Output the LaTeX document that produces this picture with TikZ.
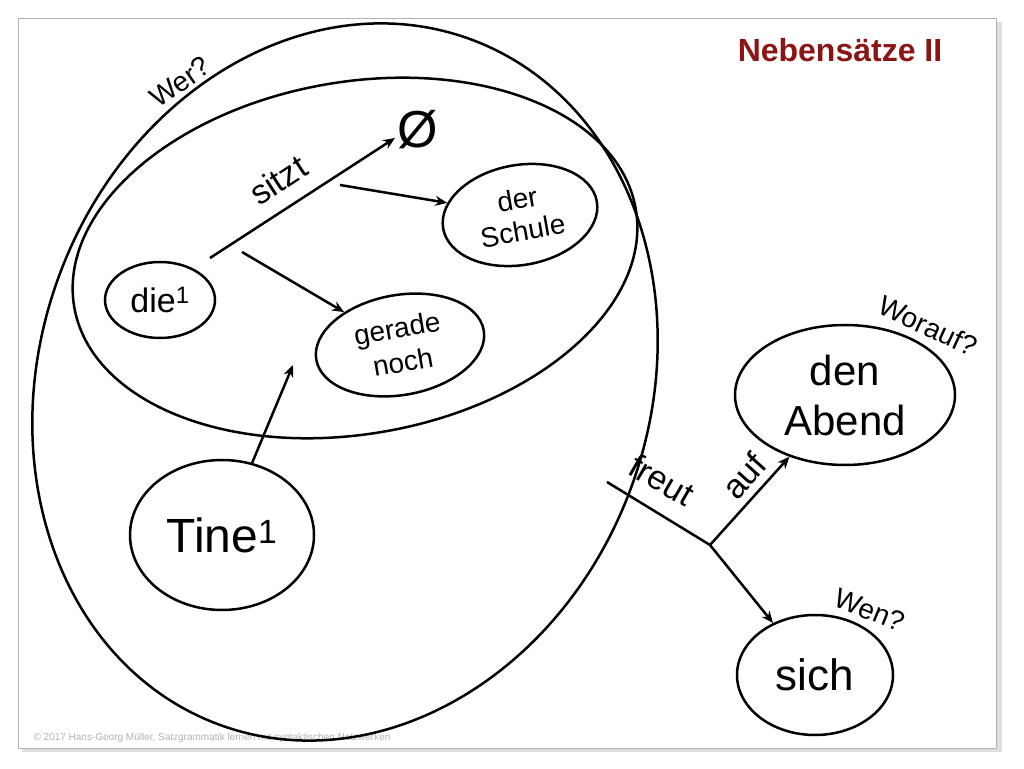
\documentclass[tikz,border=0pt]{standalone}
\usepackage{fontspec}
\setmainfont{Liberation Sans}
\usetikzlibrary{shapes.geometric,arrows.meta}
\definecolor{titlered}{RGB}{140,20,20}
\begin{document}
\begin{tikzpicture}[x=1pt,y=1pt,
  ell/.style={draw,ellipse,line width=2.5pt,inner sep=0pt,align=center},
  arr/.style={line width=2.5pt,-{Stealth[length=12pt,width=10pt]}},
  ln/.style={line width=2.5pt},
  lbl/.style={font=\fontsize{34}{34}\selectfont}]
\useasboundingbox (0,0) rectangle (1024,768);
\fill[white] (0,0) rectangle (1024,768);
\fill[gray!25] (22,16) rectangle (1002,746);
\draw[gray!60,fill=white] (18,20) rectangle (996,750);
\node[anchor=south west,gray!60,font=\fontsize{10}{10}\selectfont] (foot) at (30,22) {© 2017 Hans-Georg Müller, Satzgrammatik lernen mit syntaktischen Netzwerken};
\node[titlered,font=\fontsize{32}{32}\bfseries\selectfont] (title) at (840,718) {Nebensätze II};
% big ellipses
\draw[line width=2.5pt,rotate around={70:(345,386)}] (345,386) ellipse [x radius=365, y radius=305];
\draw[line width=2.5pt,rotate around={10:(355,510)}] (355,510) ellipse [x radius=285, y radius=176];
\node[rotate=35,font=\fontsize{28}{28}\selectfont] (wer) at (180,686) {Wer?};
% nodes
\node[ell,minimum width=110,minimum height=76,font=\fontsize{34}{34}\selectfont] (die) at (160,468) {die\textsuperscript{1}};
\node[ell,minimum width=156,minimum height=100,rotate=10,font=\fontsize{28}{32}\selectfont] (schule) at (520,553) {der\\Schule};
\node[ell,minimum width=170,minimum height=100,rotate=10,font=\fontsize{28}{34}\selectfont] (gerade) at (400,423) {gerade\\noch};
\node[ell,minimum width=184,minimum height=150,font=\fontsize{48}{48}\selectfont] (tine) at (222,233) {Tine\textsuperscript{1}};
\node[ell,minimum width=220,minimum height=140,font=\fontsize{42}{50}\selectfont] (abend) at (845,373) {den\\Abend};
\node[ell,minimum width=156,minimum height=120,font=\fontsize{44}{44}\selectfont] (sich) at (815,93) {sich};
\node[font=\fontsize{52}{52}\selectfont] (null) at (418,638) {Ø};
% connectors
\coordinate (s0) at (210,510);
\coordinate (s1) at (395,630);
\draw[arr] (s0) -- (s1);
\node[lbl,rotate=33] (sitzt) at (278,588) {sitzt};
\coordinate (a0) at (340,583);
\draw[arr] (a0) -- (schule);
\coordinate (b0) at (242,516);
\draw[arr] (b0) -- (gerade);
\coordinate (t1) at (293,403);
\draw[arr] (tine) -- (t1);
\coordinate (f0) at (607,286);
\coordinate (f1) at (710,223);
\draw[ln] (f0) -- (f1);
\node[lbl,rotate=-30] (freut) at (662,288) {freut};
\draw[arr] (f1) -- (abend);
\node[lbl,rotate=48] (auf) at (744,292) {auf};
\draw[arr] (f1) -- (sich);
\node[rotate=-25,font=\fontsize{28}{28}\selectfont] (worauf) at (928,442) {Worauf?};
\node[rotate=-22,font=\fontsize{28}{28}\selectfont] (wen) at (870,158) {Wen?};
\end{tikzpicture}
\end{document}
